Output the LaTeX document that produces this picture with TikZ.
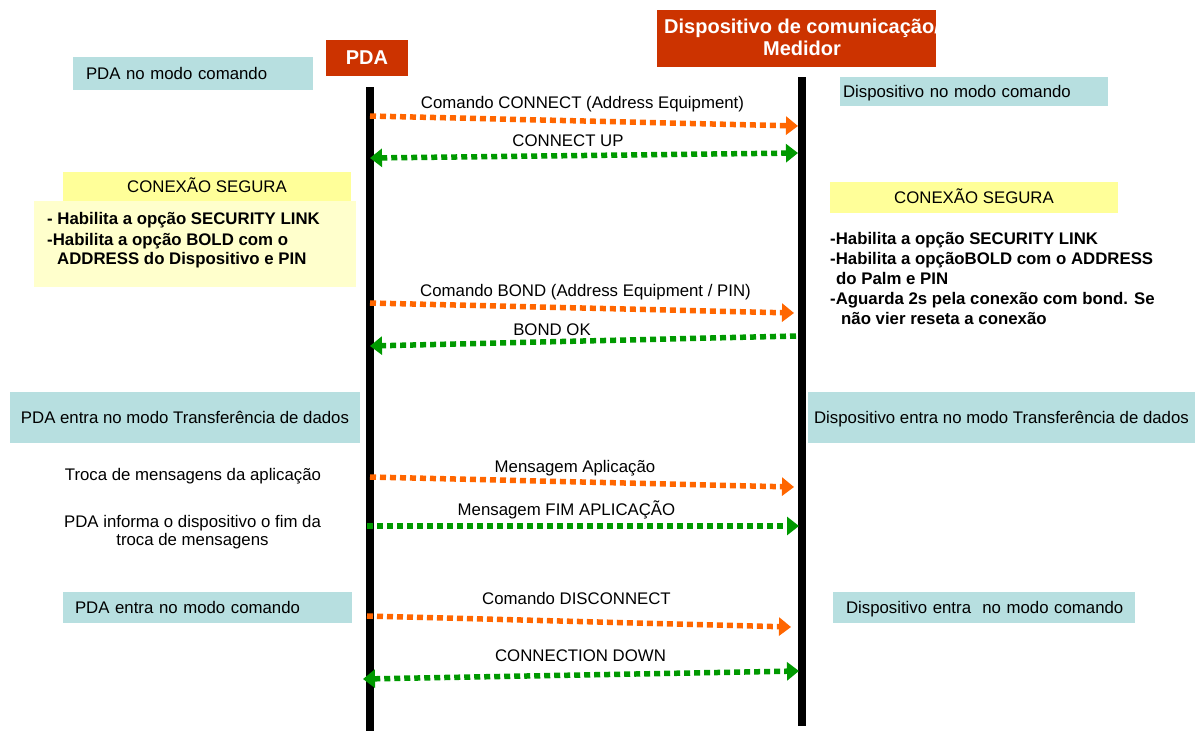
\documentclass[tikz,border=0pt]{standalone}
\usepackage{fontspec}
\setmainfont{Liberation Sans}
\usetikzlibrary{arrows.meta,positioning}

\definecolor{headred}{HTML}{CC3300}
\definecolor{modeblue}{HTML}{B7DFE0}
\definecolor{secyellow}{HTML}{FFFF99}
\definecolor{secpale}{HTML}{FFFFCC}
\definecolor{msgorange}{HTML}{FF6600}
\definecolor{msggreen}{HTML}{009900}

\newcommand{\txtsize}{\fontsize{16.8}{19}\selectfont}
\newcommand{\headsize}{\fontsize{20}{21.7}\selectfont\bfseries}

\tikzset{headbox/.style={
            fill=headred,
            text=white,
            inner sep=0pt,
            font=\headsize
        },
        modebox/.style={
            fill=modeblue,
            inner sep=0pt,
            text height=12pt,
            text depth=0pt,
            font=\txtsize
        },
        sechead/.style={
            fill=secyellow,
            inner sep=0pt,
            text height=12pt,
            text depth=0pt,
            font=\txtsize
        },
        secbody/.style={
            fill=secpale,
            inner sep=0pt
        },
        plaintxt/.style={
            inner sep=0pt,
            font=\txtsize
        },
        boldtxt/.style={
            inner sep=0pt,
            align=left,
            font=\txtsize\bfseries
        },
        lifeline/.style={
            line width=8pt
        },
        msg/.style={
            line width=5.5pt,
            dash pattern=on 6pt off 4pt,
            -{Triangle[length=12pt,width=18pt]}
        },
        both/.style={
            {Triangle[length=12pt,width=18pt]}-{Triangle[length=12pt,width=18pt]}
        },
        request/.style={msg, msgorange},
        reply/.style={msg, msggreen}
    }

\begin{document}
\begin{tikzpicture}[x=1pt,y=-1pt]
    \useasboundingbox (0,0) rectangle (1195,731);

    % heads of the two lifelines
    \node[headbox, minimum width=82pt, minimum height=36pt] (pdahead) at (367,58) {PDA};
    \node[headbox, minimum width=279pt, minimum height=57pt] (devhead) at (796.5,38.5) {};
    \node[headbox, fill=none, align=center] (devheadtxt) at (802,37) {Dispositivo de comunicação/\\Medidor};

    % lifelines
    \coordinate (pdatop) at (370,87);
    \coordinate (pdabot) at (370,731);
    \coordinate (devtop) at (802,77);
    \coordinate (devbot) at (802,726);
    \draw[lifeline] (pdatop) -- (pdabot);
    \draw[lifeline] (devtop) -- (devbot);

    % states of both sides
    \node[modebox, minimum height=33pt, text width=214pt, inner xsep=13pt, align=left] (pdacmd) at (193,73.5) {\mbox{PDA no modo comando}};
    \node[modebox, minimum height=29pt, text width=262pt, inner xsep=3pt, align=left] (devcmd) at (974,91.5) {\mbox{Dispositivo no modo comando}};
    \node[modebox, minimum width=350pt, minimum height=51pt] (pdatrans) at (185,417.5) {PDA entra no modo Transferência de dados};
    \node[modebox, minimum width=387pt, minimum height=51pt] (devtrans) at (1001.5,417.5) {Dispositivo entra no modo Transferência de dados};
    \node[modebox, minimum height=31pt, text width=265pt, inner xsep=12pt, align=left] (pdaend) at (207.5,607.5) {\mbox{PDA entra no modo comando}};
    \node[modebox, minimum height=31pt, text width=276pt, inner xsep=13pt, align=left] (devend) at (984,607.5) {\mbox{Dispositivo entra\ \ no modo comando}};

    % secure connection, PDA side
    \node[sechead, minimum width=288pt, minimum height=29pt] (pdasec) at (207,186.5) {CONEXÃO SEGURA};
    \node[secbody, minimum width=322pt, minimum height=86pt] (pdasecbody) at (195,244) {};
    \node[boldtxt, font=\fontsize{16.8}{19}\selectfont\bfseries, anchor=north west] (pdasectxt) at (47,212)
        {- Habilita a opção SECURITY LINK\\[2pt]
         -Habilita a opção BOLD com o\\
         \hspace*{10pt}ADDRESS do Dispositivo e PIN};

    % secure connection, device side
    \node[sechead, minimum width=288pt, minimum height=31pt] (devsec) at (974,197.5) {CONEXÃO SEGURA};
    \node[boldtxt, font=\fontsize{16.8}{20}\selectfont\bfseries, anchor=north west] (devsectxt) at (830,232)
        {-Habilita a opção SECURITY LINK\\
         -Habilita a opçãoBOLD com o ADDRESS\\
         \hspace*{6pt}do Palm e PIN\\
         -Aguarda 2s pela conexão com bond. Se\\
         \hspace*{11pt}não vier reseta a conexão};

    % notes of the data exchange
    \node[plaintxt, anchor=base] (exchange) at (193,480) {Troca de mensagens da aplicação};
    \node[plaintxt, font=\fontsize{16.8}{18.5}\selectfont, align=center, anchor=north] (endnote) at (192.5,515)
        {PDA informa o dispositivo o fim da\\troca de mensagens};

    % ends of the messages
    \coordinate (connectA) at (370,116);
    \coordinate (connectB) at (798,126);
    \coordinate (upA) at (370,158);
    \coordinate (upB) at (798,153);
    \coordinate (bondA) at (370,303);
    \coordinate (bondB) at (794,313);
    \coordinate (okA) at (370,346);
    \coordinate (okB) at (796,336);
    \coordinate (appA) at (370,477);
    \coordinate (appB) at (794,487);
    \coordinate (fimA) at (367,526);
    \coordinate (fimB) at (799,526);
    \coordinate (discA) at (367,616);
    \coordinate (discB) at (791,627);
    \coordinate (downA) at (363,679);
    \coordinate (downB) at (799,671);

    % messages
    \draw[request] (connectA) -- (connectB);
    \draw[reply, both] (upA) -- (upB);
    \draw[request] (bondA) -- (bondB);
    \draw[reply] (okB) -- (okA);
    \draw[request] (appA) -- (appB);
    \draw[reply] (fimA) -- (fimB);
    \draw[request] (discA) -- (discB);
    \draw[reply, both] (downA) -- (downB);

    % message labels
    \node[plaintxt, anchor=base] (connectlbl) at (582.5,108) {Comando CONNECT (Address Equipment)};
    \node[plaintxt, anchor=base] (uplbl) at (568,146.5) {CONNECT UP};
    \node[plaintxt, anchor=base] (bondlbl) at (585.5,296) {Comando BOND (Address Equipment / PIN)};
    \node[plaintxt, anchor=base] (oklbl) at (552,335) {BOND OK};
    \node[plaintxt, anchor=base] (applbl) at (575,472.5) {Mensagem Aplicação};
    \node[plaintxt, anchor=base] (fimlbl) at (566.5,515) {Mensagem FIM APLICAÇÃO};
    \node[plaintxt, anchor=base] (disclbl) at (576.5,604) {Comando DISCONNECT};
    \node[plaintxt, anchor=base] (downlbl) at (580.5,661.5) {CONNECTION DOWN};
\end{tikzpicture}
\end{document}
